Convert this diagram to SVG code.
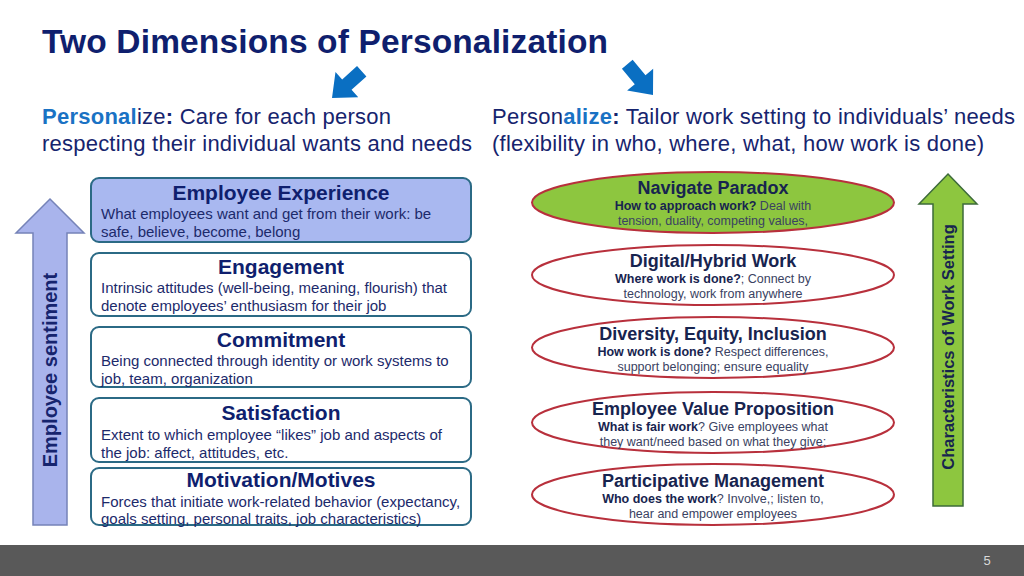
<svg xmlns="http://www.w3.org/2000/svg" width="1024" height="576" viewBox="0 0 1024 576">
<style>
text{font-family:"Liberation Sans",Arial,sans-serif;}
.title{font-size:33.5px;font-weight:bold;fill:#0f1f6e;}
.sub{font-size:22px;fill:#16246e;}
.blue{fill:#1a72c4;font-weight:bold;}
.b{font-weight:bold;}
.box{fill:#ffffff;stroke:#2b6a85;stroke-width:2;}
.box1{fill:#a9b8f0;}
.bt{font-size:21px;font-weight:bold;fill:#0f1f6e;text-anchor:middle;}
.bd{font-size:15px;fill:#1c2a6b;}
.ell{fill:#ffffff;stroke:#b8303c;stroke-width:2;}
.ell1{fill:#8dc63f;}
.et{font-size:18px;font-weight:bold;fill:#17244f;text-anchor:middle;}
.ed{font-size:12.5px;fill:#3a4262;text-anchor:middle;}
.ed tspan.k{font-weight:bold;fill:#17244f;}
</style>
<rect width="1024" height="576" fill="#ffffff"/>
<text class="title" x="42" y="53" textLength="566">Two Dimensions of Personalization</text>
<g id="arrows-top" fill="#0a6fc2">
<polygon transform="translate(332,98) rotate(48)" points="-7,-40 7,-40 7,-20 17,-20 0,0 -17,-20 -7,-20"/>
<polygon transform="translate(653,95) rotate(-40)" points="-7,-40 7,-40 7,-20 17,-20 0,0 -17,-20 -7,-20"/>
</g>
<g id="subtitle-left">
<text class="sub" x="42" y="124" textLength="349"><tspan class="blue">Personal</tspan>ize<tspan class="b">:</tspan> Care for each person</text>
<text class="sub" x="42" y="151" textLength="430">respecting their individual wants and needs</text>
</g>
<g id="subtitle-right">
<text class="sub" x="492" y="124" textLength="523">Person<tspan class="blue">alize</tspan><tspan class="b">:</tspan> Tailor work setting to individuals’ needs</text>
<text class="sub" x="492" y="151" textLength="492">(flexibility in who, where, what, how work is done)</text>
</g>
<g id="employee-sentiment-arrow">
<polygon points="50,199 84,233 67,233 67,525 33,525 33,233 16,233" fill="#a9b4ec" stroke="#7583b8" stroke-width="1.5"/>
<text transform="translate(57,370) rotate(-90)" text-anchor="middle" font-size="20" font-weight="bold" fill="#16246e">Employee sentiment</text>
</g>
<g id="work-setting-arrow">
<polygon points="948,174 977,204 963,204 963,506 933,506 933,204 919,204" fill="#8dc63f" stroke="#3d6b3a" stroke-width="1.5"/>
<text transform="translate(954,347) rotate(-90)" text-anchor="middle" font-size="16.5" font-weight="bold" fill="#17244f">Characteristics of Work Setting</text>
</g>
<g id="employee-experience">
<rect class="box box1" x="91" y="178" width="380" height="64" rx="8"/>
<text class="bt" x="281" y="200">Employee Experience</text>
<text class="bd" x="101" y="219">What employees want and get from their work: be</text>
<text class="bd" x="101" y="237">safe, believe, become, belong</text>
</g>
<g id="engagement">
<rect class="box" x="91" y="253" width="380" height="63" rx="8"/>
<text class="bt" x="281" y="274">Engagement</text>
<text class="bd" x="101" y="293">Intrinsic attitudes (well-being, meaning, flourish) that</text>
<text class="bd" x="101" y="311">denote employees’ enthusiasm for their job</text>
</g>
<g id="commitment">
<rect class="box" x="91" y="327" width="380" height="60" rx="8"/>
<text class="bt" x="281" y="347">Commitment</text>
<text class="bd" x="101" y="366">Being connected through identity or work systems to</text>
<text class="bd" x="101" y="384">job, team, organization</text>
</g>
<g id="satisfaction">
<rect class="box" x="91" y="398" width="380" height="64" rx="8"/>
<text class="bt" x="281" y="420">Satisfaction</text>
<text class="bd" x="101" y="440">Extent to which employee “likes” job and aspects of</text>
<text class="bd" x="101" y="458">the job: affect, attitudes, etc.</text>
</g>
<g id="motivation">
<rect class="box" x="91" y="468" width="380" height="57" rx="8"/>
<text class="bt" x="281" y="487">Motivation/Motives</text>
<text class="bd" x="101" y="507">Forces that initiate work-related behavior (expectancy,</text>
<text class="bd" x="101" y="524">goals setting, personal traits, job characteristics)</text>
</g>
<g id="navigate-paradox">
<ellipse class="ell ell1" cx="713" cy="202.5" rx="181" ry="30.5"/>
<text class="et" x="713" y="194">Navigate Paradox</text>
<text class="ed" x="713" y="210"><tspan class="k">How to approach work?</tspan> Deal with</text>
<text class="ed" x="713" y="225">tension, duality, competing values,</text>
</g>
<g id="digital-hybrid">
<ellipse class="ell" cx="713" cy="275" rx="181" ry="30"/>
<text class="et" x="713" y="267">Digital/Hybrid Work</text>
<text class="ed" x="713" y="283"><tspan class="k">Where work is done?</tspan>; Connect by</text>
<text class="ed" x="713" y="298">technology, work from anywhere</text>
</g>
<g id="dei">
<ellipse class="ell" cx="713" cy="347.5" rx="181" ry="30.5"/>
<text class="et" x="713" y="340">Diversity, Equity, Inclusion</text>
<text class="ed" x="713" y="356"><tspan class="k">How work is done?</tspan> Respect differences,</text>
<text class="ed" x="713" y="371">support belonging; ensure equality</text>
</g>
<g id="evp">
<ellipse class="ell" cx="713" cy="422.5" rx="181" ry="30.5"/>
<text class="et" x="713" y="415">Employee Value Proposition</text>
<text class="ed" x="713" y="431"><tspan class="k">What is fair work</tspan>? Give employees what</text>
<text class="ed" x="713" y="446">they want/need based on what they give;</text>
</g>
<g id="participative">
<ellipse class="ell" cx="713" cy="494.5" rx="181" ry="30.5"/>
<text class="et" x="713" y="487">Participative Management</text>
<text class="ed" x="713" y="503"><tspan class="k">Who does the work</tspan>? Involve,;  listen to,</text>
<text class="ed" x="713" y="518">hear and empower employees</text>
</g>
<g id="connectors"></g>
<g id="footer">
<rect x="0" y="545" width="1024" height="31" fill="#595959"/>
<text x="987" y="565" font-size="13" fill="#d9d9d9" text-anchor="middle">5</text>
</g>
</svg>
